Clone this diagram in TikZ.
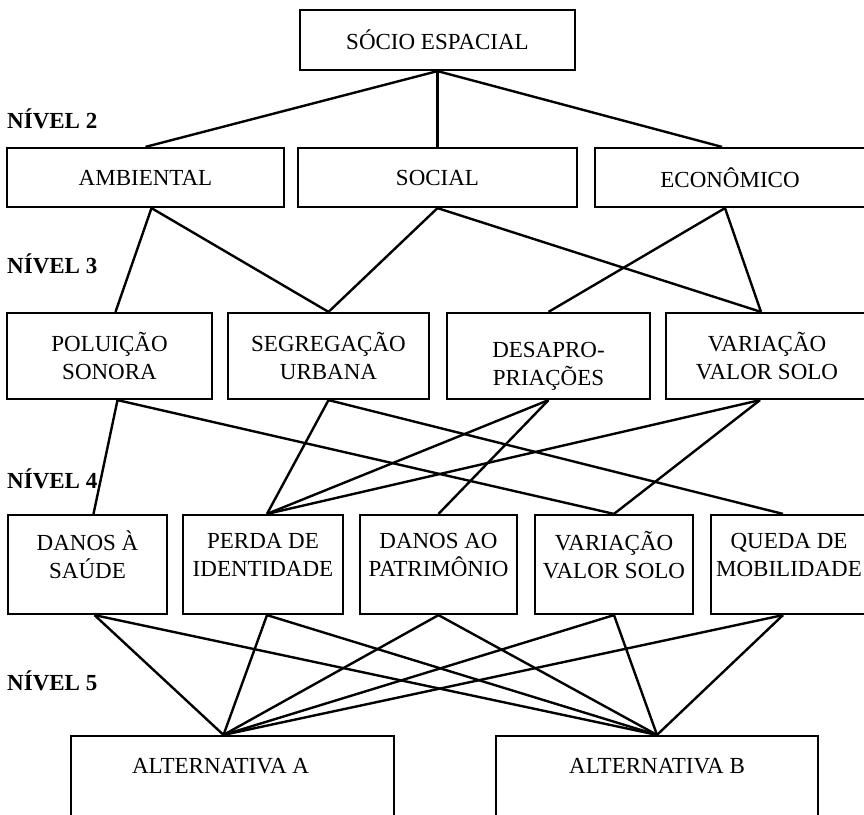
\documentclass[tikz,border=0pt]{standalone}
\usepackage{fontspec}
\setmainfont{Liberation Serif}

\begin{document}
\begin{tikzpicture}[x=1pt,y=-1pt]
\tikzset{
	b/.style={draw=black, line width=2.2pt, align=center, inner sep=0pt, font=\fontsize{23}{28}\selectfont},
	t/.style={align=center, inner sep=0pt, font=\fontsize{23}{28}\selectfont},
	nivel/.style={anchor=west, inner sep=0pt, font=\fontsize{23}{26}\selectfont\bfseries},
	l/.style={line width=2.4pt}
}
\useasboundingbox (0,0) rectangle (864,814);

% nivel 1
\node[b, minimum width=275, minimum height=60] (n_1) at (437.5,40) {SÓCIO ESPACIAL};

% nivel 2
\node[nivel] (lv_2) at (7,119) {NÍVEL 2};
\node[b, minimum width=277, minimum height=59] (n_21) at (145.5,177.5) {AMBIENTAL};
\node[b, minimum width=279, minimum height=59] (n_22) at (437.5,177.5) {SOCIAL};
\node[b, minimum width=270, minimum height=59] (n_23) at (730,177.5) {ECONÔMICO};

% nivel 3
\node[nivel] (lv_3) at (7,264) {NÍVEL 3};
\node[b, minimum width=205, minimum height=86] (n_31) at (109.5,356) {POLUIÇÃO\\SONORA};
\node[b, minimum width=201, minimum height=86] (n_32) at (328.5,356) {SEGREGAÇÃO\\URBANA};
\node[b, minimum width=203, minimum height=86] (n_33) at (548.5,356) {\rule{0pt}{36pt}DESAPRO-\\PRIAÇÕES};
\node[b, minimum width=202, minimum height=86] (n_34) at (767,356) {VARIAÇÃO\\VALOR SOLO};

% nivel 4
\node[nivel] (lv_4) at (7,479) {NÍVEL 4};
\node[b, minimum width=159, minimum height=99] (n_41) at (87.5,564.5) {DANOS À\\SAÚDE\\[-8pt]};
\node[b, minimum width=160, minimum height=99] (n_42) at (263,564.5) {PERDA DE\\IDENTIDADE\\[-8pt]};
\node[b, minimum width=157, minimum height=99] (n_43) at (438.5,564.5) {DANOS AO\\PATRIMÔNIO\\[-8pt]};
\node[b, minimum width=158, minimum height=99] (n_44) at (614,564.5) {VARIAÇÃO\\VALOR SOLO\\[-8pt]};
\node[b, minimum width=156, minimum height=99] (n_45) at (789,564.5) {QUEDA DE\\MOBILIDADE\\[-8pt]};

% nivel 5
\node[nivel] (lv_5) at (7,681) {NÍVEL 5};
\node[b, minimum width=323, minimum height=100] (alt_A) at (232.5,786) {};
\node[b, minimum width=322, minimum height=100] (alt_B) at (657,786) {};
\node[t] (t_A) at ([xshift=-12,yshift=-31]alt_A.north) {ALTERNATIVA A};
\node[t] (t_B) at ([yshift=-31]alt_B.north) {ALTERNATIVA B};

% 1 --> 2
\draw[l] (n_1.south) -- (n_21.north);
\draw[l] (n_1.south) -- (n_22.north);
\draw[l] (n_1.south) -- ([xshift=-8]n_23.north);

% 2 --> 3
\draw[l] ([xshift=6]n_21.south) -- ([xshift=6]n_31.north);
\draw[l] ([xshift=6]n_21.south) -- (n_32.north);
\draw[l] (n_22.south) -- (n_32.north);
\draw[l] (n_22.south) -- ([xshift=-6]n_34.north);
\draw[l] ([xshift=-5]n_23.south) -- (n_33.north);
\draw[l] ([xshift=-5]n_23.south) -- ([xshift=-6]n_34.north);

% 3 --> 4
\draw[l] ([xshift=8]n_31.south) -- ([xshift=6]n_41.north);
\draw[l] ([xshift=8]n_31.south) -- (n_44.north);
\draw[l] (n_32.south) -- ([xshift=4]n_42.north);
\draw[l] (n_32.south) -- ([xshift=-6]n_45.north);
\draw[l] (n_33.south) -- ([xshift=4]n_42.north);
\draw[l] (n_33.south) -- (n_43.north);
\draw[l] ([xshift=-7]n_34.south) -- ([xshift=4]n_42.north);
\draw[l] ([xshift=-7]n_34.south) -- (n_44.north);

% 4 --> alternativas
\draw[l] ([xshift=7]n_41.south) -- ([xshift=-9]alt_A.north);
\draw[l] ([xshift=7]n_41.south) -- (alt_B.north);
\draw[l] ([xshift=4]n_42.south) -- ([xshift=-9]alt_A.north);
\draw[l] ([xshift=4]n_42.south) -- (alt_B.north);
\draw[l] (n_43.south) -- ([xshift=-9]alt_A.north);
\draw[l] (n_43.south) -- (alt_B.north);
\draw[l] (n_44.south) -- ([xshift=-9]alt_A.north);
\draw[l] (n_44.south) -- (alt_B.north);
\draw[l] ([xshift=-6]n_45.south) -- ([xshift=-9]alt_A.north);
\draw[l] ([xshift=-6]n_45.south) -- (alt_B.north);

\end{tikzpicture}
\end{document}
